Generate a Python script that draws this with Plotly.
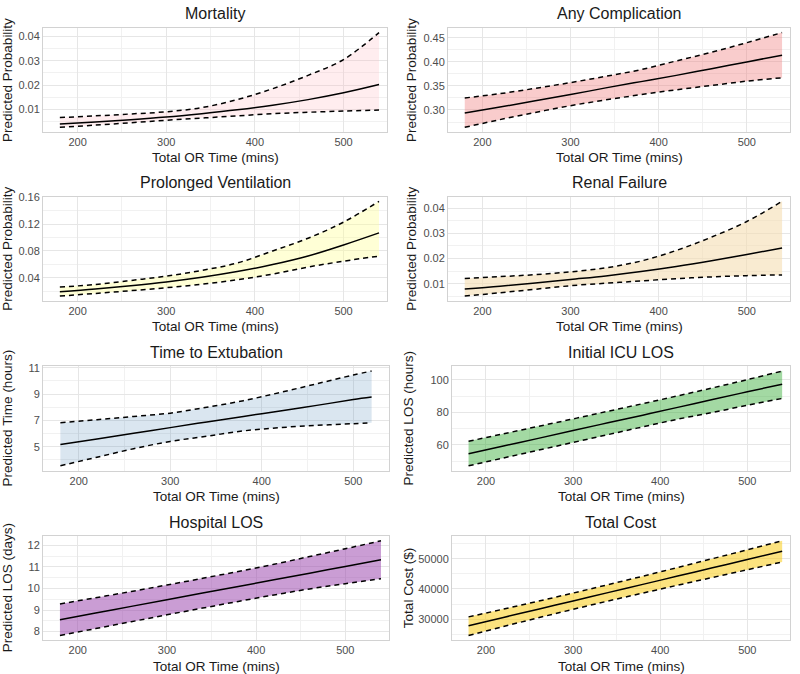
import plotly.graph_objects as go

# ---------------- data ----------------
or_time = [180, 220, 260, 300, 340, 380, 420, 460, 500, 540]
or_time_ext = [180, 220, 260, 300, 340, 380, 420, 460, 500, 520]

mort_mean = [0.0040, 0.0048, 0.0057, 0.0068, 0.0082, 0.0098, 0.0117, 0.0140, 0.0168, 0.0202]
mort_upper = [0.0066, 0.0073, 0.0081, 0.0090, 0.0107, 0.0140, 0.0185, 0.0240, 0.0305, 0.0416]
mort_lower = [0.0026, 0.0035, 0.0045, 0.0055, 0.0064, 0.0073, 0.0082, 0.0088, 0.0093, 0.0097]

comp_mean = [0.294, 0.306, 0.319, 0.332, 0.346, 0.359, 0.372, 0.386, 0.400, 0.414]
comp_upper = [0.325, 0.334, 0.345, 0.357, 0.370, 0.384, 0.402, 0.420, 0.440, 0.461]
comp_lower = [0.264, 0.280, 0.295, 0.309, 0.321, 0.332, 0.342, 0.351, 0.360, 0.367]

vent_mean = [0.0192, 0.0232, 0.0281, 0.0338, 0.0408, 0.0493, 0.0597, 0.0725, 0.0890, 0.1070]
vent_upper = [0.0262, 0.0300, 0.0360, 0.0425, 0.0510, 0.0620, 0.0800, 0.0990, 0.1230, 0.1540]
vent_lower = [0.0128, 0.0167, 0.0208, 0.0252, 0.0305, 0.0370, 0.0455, 0.0560, 0.0648, 0.0723]

renal_mean = [0.0079, 0.0090, 0.0103, 0.0117, 0.0131, 0.0148, 0.0168, 0.0191, 0.0216, 0.0242]
renal_upper = [0.0121, 0.0128, 0.0136, 0.0147, 0.0163, 0.0190, 0.0232, 0.0285, 0.0347, 0.0427]
renal_lower = [0.0051, 0.0064, 0.0078, 0.0092, 0.0102, 0.0111, 0.0120, 0.0127, 0.0132, 0.0135]

ext_mean = [5.17, 5.59, 6.02, 6.45, 6.88, 7.30, 7.72, 8.14, 8.58, 8.77]
ext_upper = [6.82, 7.05, 7.30, 7.55, 8.00, 8.50, 9.12, 9.78, 10.45, 10.75]
ext_lower = [3.55, 4.20, 4.85, 5.40, 5.80, 6.20, 6.45, 6.62, 6.75, 6.82]

icu_mean = [54.5, 59.3, 64.0, 68.8, 73.6, 78.3, 83.1, 87.9, 92.7, 97.4]
icu_upper = [62.2, 66.8, 71.4, 76.0, 80.7, 85.4, 90.2, 95.1, 100.2, 105.5]
icu_lower = [47.1, 51.9, 56.7, 61.5, 66.3, 71.1, 75.8, 80.0, 84.4, 88.6]

hosp_mean = [8.55, 8.86, 9.17, 9.48, 9.79, 10.09, 10.40, 10.71, 11.02, 11.33]
hosp_upper = [9.28, 9.57, 9.86, 10.16, 10.47, 10.79, 11.12, 11.48, 11.84, 12.21]
hosp_lower = [7.82, 8.14, 8.46, 8.78, 9.09, 9.40, 9.70, 9.98, 10.22, 10.45]

cost_mean = [27830, 30570, 33300, 36040, 38780, 41510, 44250, 46990, 49720, 52460]
cost_upper = [30750, 33320, 35940, 38640, 41400, 44210, 47100, 50010, 52950, 55930]
cost_lower = [24590, 27570, 30450, 33260, 35980, 38630, 41230, 43790, 46340, 48920]

panel_titles = ["Mortality", "Any Complication", "Prolonged Ventilation", "Renal Failure",
                "Time to Extubation", "Initial ICU LOS", "Hospital LOS", "Total Cost"]
y_titles = ["Predicted Probability", "Predicted Probability", "Predicted Probability",
            "Predicted Probability", "Predicted Time (hours)", "Predicted LOS (hours)",
            "Predicted LOS (days)", "Total Cost ($)"]
x_title = "Total OR Time (mins)"

# ---------------- styling ----------------
W, H = 800, 674
FONT = "Liberation Sans, Arial, sans-serif"
fills = ["rgba(255,182,193,0.25)", "rgba(240,128,128,0.40)", "rgba(255,255,153,0.40)",
         "rgba(245,222,179,0.60)", "rgba(70,130,180,0.20)", "rgba(50,170,50,0.45)",
         "rgba(150,60,170,0.50)", "rgba(250,200,0,0.50)"]
# panel pixel boxes: (left, right, top, bottom)
boxes = [(43, 387, 23, 128), (448, 790, 23, 128),
         (43, 387, 193, 298), (448, 790, 193, 298),
         (43, 389, 364, 469), (452, 790, 364, 469),
         (43, 389, 535, 640), (452, 790, 535, 640)]
ytitle_x = [8, 412, 8, 412, 7, 408, 7, 408]
y_ticks = [
    dict(tick0=0, dtick=0.01, tickformat=".2f", minor=0.005),
    dict(tick0=0, dtick=0.05, tickformat=".2f", minor=0.025),
    dict(tick0=0, dtick=0.04, tickformat=".2f", minor=0.02),
    dict(tick0=0, dtick=0.01, tickformat=".2f", minor=0.005),
    dict(tick0=1, dtick=2, tickformat="d", minor=1),
    dict(tick0=0, dtick=20, tickformat="d", minor=10),
    dict(tick0=0, dtick=1, tickformat="d", minor=0.5),
    dict(tick0=0, dtick=10000, tickformat="d", minor=5000),
]
x_ranges = [[161, 549]] * 4 + [[161, 539]] + [[161, 549]] * 3

series = [
    (or_time, mort_mean, mort_upper, mort_lower),
    (or_time, comp_mean, comp_upper, comp_lower),
    (or_time, vent_mean, vent_upper, vent_lower),
    (or_time, renal_mean, renal_upper, renal_lower),
    (or_time_ext, ext_mean, ext_upper, ext_lower),
    (or_time, icu_mean, icu_upper, icu_lower),
    (or_time, hosp_mean, hosp_upper, hosp_lower),
    (or_time, cost_mean, cost_upper, cost_lower),
]

fig = go.Figure()
annotations = []
layout_axes = {}

for i, (xs, mean, up, lo) in enumerate(series):
    n = i + 1
    xa = "x" if n == 1 else f"x{n}"
    ya = "y" if n == 1 else f"y{n}"
    # ribbon
    fig.add_trace(go.Scatter(x=xs, y=lo, mode="lines", line=dict(width=0, shape="spline"),
                             xaxis=xa, yaxis=ya, showlegend=False, hoverinfo="skip"))
    fig.add_trace(go.Scatter(x=xs, y=up, mode="lines", line=dict(width=0, shape="spline"),
                             fill="tonexty", fillcolor=fills[i],
                             xaxis=xa, yaxis=ya, showlegend=False, hoverinfo="skip"))
    # bounds
    for b in (up, lo):
        fig.add_trace(go.Scatter(x=xs, y=b, mode="lines",
                                 line=dict(color="black", width=1.5, dash="5px,4px", shape="spline"),
                                 xaxis=xa, yaxis=ya, showlegend=False))
    fig.add_trace(go.Scatter(x=xs, y=mean, mode="lines",
                             line=dict(color="black", width=1.5, shape="spline"),
                             xaxis=xa, yaxis=ya, showlegend=False))

    l, r, t, btm = boxes[i]
    span = max(up) - min(lo)
    yr = [min(lo) - 0.05 * span, max(up) + 0.05 * span]
    yt = y_ticks[i]
    common = dict(showline=True, mirror=True, linecolor="#d2d2d2", linewidth=1,
                  showgrid=True, gridcolor="#e6e6e6", gridwidth=1, zeroline=False,
                  ticks="", tickfont=dict(family=FONT, size=11, color="#4d4d4d"))
    layout_axes["xaxis" if n == 1 else f"xaxis{n}"] = dict(
        domain=[l / W, r / W], anchor=ya, range=x_ranges[i],
        tickmode="linear", tick0=0, dtick=100,
        minor=dict(dtick=50, tick0=0, showgrid=True, gridcolor="#f1f1f1", gridwidth=1),
        **common)
    layout_axes["yaxis" if n == 1 else f"yaxis{n}"] = dict(
        domain=[1 - btm / H, 1 - t / H], anchor=xa, range=yr,
        tickmode="linear", tick0=yt["tick0"], dtick=yt["dtick"], tickformat=yt["tickformat"],
        minor=dict(dtick=yt["minor"], tick0=0, showgrid=True, gridcolor="#f1f1f1", gridwidth=1),
        **common)

    cx = (l + r) / 2
    annotations.append(dict(text=panel_titles[i], x=cx / W, y=1 - (t - 14) / H,
                            xref="paper", yref="paper", showarrow=False,
                            xanchor="center", yanchor="middle",
                            font=dict(family=FONT, size=16, color="#1a1a1a")))
    annotations.append(dict(text=x_title, x=cx / W, y=1 - (btm + 26) / H,
                            xref="paper", yref="paper", showarrow=False,
                            xanchor="center", yanchor="middle",
                            font=dict(family=FONT, size=13.5, color="#1a1a1a")))
    annotations.append(dict(text=y_titles[i], x=ytitle_x[i] / W, y=1 - ((t + btm) / 2) / H,
                            xref="paper", yref="paper", showarrow=False, textangle=-90,
                            xanchor="center", yanchor="middle",
                            font=dict(family=FONT, size=13.5, color="#1a1a1a")))

fig.update_layout(width=W, height=H, margin=dict(l=0, r=0, t=0, b=0),
                  paper_bgcolor="white", plot_bgcolor="white",
                  annotations=annotations, showlegend=False, **layout_axes)

fig.write_html("out.html")
